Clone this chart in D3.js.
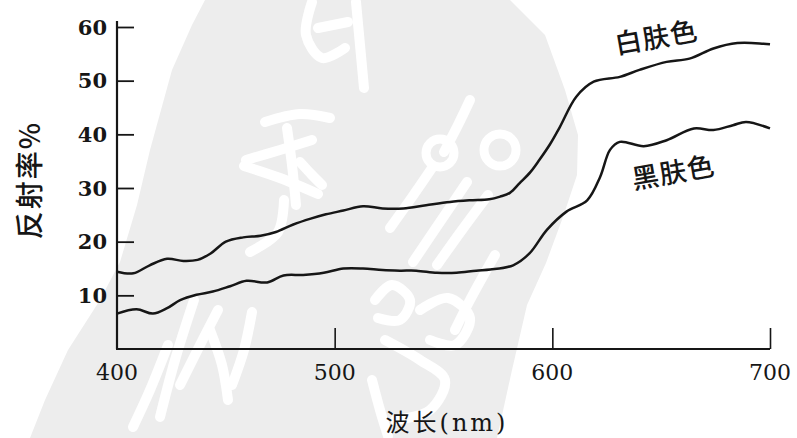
<!DOCTYPE html>
<html>
<head>
<meta charset="utf-8">
<script src="https://cdn.jsdelivr.net/npm/d3@7"></script>
<style>
  html, body { margin: 0; padding: 0; background: #fff; }
  svg { display: block; }
</style>
</head>
<body>
<svg id="chart" width="797" height="438"></svg>
<script>
// Skin reflectance spectra (wavelength in nm, reflectance in %)
const whiteSkinNm  = [400, 407.5, 415, 423, 430.5, 437, 443, 450, 458, 466, 473, 481, 489, 496, 504, 513, 522, 531.5, 542, 553, 562, 571, 576, 580.5, 585, 590, 594, 599, 603.5, 611, 619, 631, 640, 652.5, 663, 674, 685, 697, 700];
const whiteSkinPct = [14.4, 14.1, 15.6, 16.8, 16.4, 16.6, 17.8, 20.0, 20.8, 21.1, 21.8, 23.2, 24.3, 25.1, 25.8, 26.6, 26.2, 26.2, 26.8, 27.4, 27.7, 27.9, 28.4, 29.1, 30.9, 33.0, 35.2, 38.2, 41.4, 47.0, 49.8, 50.7, 52.0, 53.5, 54.1, 56.0, 57.0, 56.9, 56.8];

const darkSkinNm  = [400, 409, 416.5, 423, 429, 436.5, 444, 452, 459.5, 469, 476.5, 485.5, 495, 504, 513, 522, 530, 537.5, 547, 556, 565, 571.5, 582, 589.5, 597.5, 606.5, 616, 622, 626.5, 631, 642, 652.5, 665, 674, 683, 689, 700];
const darkSkinPct = [6.6, 7.4, 6.6, 7.6, 9.1, 10.1, 10.7, 11.7, 12.7, 12.4, 13.7, 13.8, 14.2, 15.0, 15.0, 14.7, 14.6, 14.6, 14.2, 14.2, 14.6, 14.8, 15.6, 17.8, 22.2, 25.6, 27.7, 32.1, 37.1, 38.6, 37.8, 38.9, 41.1, 40.8, 41.7, 42.3, 41.1];

const xTicks = [400, 500, 600, 700];
const yTicks = [10, 20, 30, 40, 50, 60];

const seriesLabels = ["白肤色", "黑肤色"];
const xTitle = "波长(nm)";
const yTitle = "反射率%";

const svg = d3.select("#chart");
const ink = "#161616";

// Plot frame
const x = d3.scaleLinear().domain([400, 700]).range([117, 770]);
const y = d3.scaleLinear().domain([0, 60]).range([349, 27]);

// Pale background stamp with white brush strokes
const stamp = svg.append("g");
const blob = [[205,0],[510,0],[545,35],[565,90],[578,135],[577,175],[563,217],[546,263],[527,305],[512,370],[497,438],
              [30,438],[45,400],[68,350],[100,300],[120,262],[137,205],[150,150],[172,70],[192,25]];
stamp.append("path")
  .attr("d", d3.line().curve(d3.curveLinearClosed)(blob))
  .attr("fill", "#ededed");

const strokes = [
  // upper glyph
  [[312,2],[306,35],[322,58],[345,48]],
  [[356,2],[360,45],[364,88]],
  [[318,28],[348,22]],
  // middle-left glyph
  [[265,122],[300,114],[330,118]],
  [[246,160],[280,150],[312,140]],
  [[287,128],[292,165],[296,205]],
  [[244,166],[280,178],[318,194]],
  [[300,162],[312,175],[322,185]],
  [[284,200],[278,232],[250,252]],
  // middle-right glyph
  [[470,100],[458,125],[444,152]],
  [[432,168],[410,200],[390,228]],
  [[467,182],[440,222],[413,262]],
  [[488,195],[462,230],[437,265]],
  [[495,255],[470,300],[455,330]],
  // lower-left glyph
  [[218,310],[200,345],[180,385]],
  [[252,312],[244,350],[232,385]],
  [[168,345],[150,390],[133,427]],
  [[194,300],[175,360],[160,417]],
  [[210,330],[222,365],[228,400]],
  // lower-middle glyph
  [[375,300],[392,285],[410,300],[400,320],[378,318]],
  [[420,310],[448,298],[470,318],[455,345],[430,340]],
  [[385,340],[420,360],[445,380],[430,410],[395,420]],
  [[372,380],[380,410],[388,436]]
];
stamp.selectAll("path.stroke").data(strokes).join("path")
  .attr("class", "stroke")
  .attr("d", d3.line().curve(d3.curveCatmullRom))
  .attr("fill", "none")
  .attr("stroke", "#fff")
  .attr("stroke-width", 10)
  .attr("stroke-linecap", "round")
  .attr("stroke-linejoin", "round");
// circular loops of the right glyph
stamp.selectAll("circle").data([[440,153,14],[500,150,16]]).join("circle")
  .attr("cx", d => d[0]).attr("cy", d => d[1]).attr("r", d => d[2])
  .attr("fill", "none").attr("stroke", "#fff").attr("stroke-width", 9);

// Axes (ticks point inward)
const yAxis = d3.axisRight(y).tickValues(yTicks).tickSize(17).tickFormat("");
const yg = svg.append("g").attr("transform", `translate(${x(400)},0)`).call(yAxis);
yg.select(".domain").remove();
yg.selectAll(".tick line").attr("stroke", ink).attr("stroke-width", 1.8);

const xAxis = d3.axisTop(x).tickValues(xTicks.slice(1)).tickSize(21).tickFormat("");
const xg = svg.append("g").attr("transform", `translate(0,${y(0)})`).call(xAxis);
xg.select(".domain").remove();
xg.selectAll(".tick line").attr("stroke", ink).attr("stroke-width", 1.6);

svg.append("line")
  .attr("x1", x(400)).attr("x2", x(400))
  .attr("y1", y(0)).attr("y2", y(60) - 6)
  .attr("stroke", ink).attr("stroke-width", 2.2);
svg.append("line")
  .attr("x1", x(400) - 1).attr("x2", x(700))
  .attr("y1", y(0)).attr("y2", y(0))
  .attr("stroke", ink).attr("stroke-width", 2.2);

// Tick labels
const numFont = "'DejaVu Serif', 'Liberation Serif', serif";
svg.append("g").selectAll("text").data(yTicks).join("text")
  .attr("x", x(400) - 10)
  .attr("y", d => y(d))
  .attr("dy", "0.36em")
  .attr("text-anchor", "end")
  .attr("font-family", numFont)
  .attr("font-weight", "bold")
  .attr("font-size", 21)
  .attr("fill", ink)
  .text(d => d);

svg.append("g").selectAll("text").data(xTicks).join("text")
  .attr("x", d => x(d))
  .attr("y", y(0) + 31)
  .attr("text-anchor", "middle")
  .attr("font-family", numFont)
  .attr("font-size", 22)
  .attr("fill", ink)
  .text(d => d);

// Axis titles
svg.append("text")
  .attr("x", 447).attr("y", 431)
  .attr("text-anchor", "middle")
  .attr("font-family", "'DejaVu Serif', 'Noto Sans CJK SC', serif")
  .attr("font-size", 24)
  .attr("letter-spacing", 3)
  .attr("fill", ink)
  .text(xTitle);

svg.append("text")
  .attr("transform", "translate(40,180) rotate(-90)")
  .attr("text-anchor", "middle")
  .attr("font-family", "'Noto Sans CJK SC', sans-serif")
  .attr("font-size", 28)
  .attr("font-weight", 500)
  .attr("letter-spacing", 2)
  .attr("fill", ink)
  .text(yTitle);

// Spectral curves
const line = d3.line().curve(d3.curveCatmullRom.alpha(0.5));
const series = [
  { nm: whiteSkinNm, pct: whiteSkinPct },
  { nm: darkSkinNm, pct: darkSkinPct }
];
svg.append("g").selectAll("path").data(series).join("path")
  .attr("d", s => line(s.nm.map((v, i) => [x(v), y(s.pct[i])])))
  .attr("fill", "none")
  .attr("stroke", ink)
  .attr("stroke-width", 2.5)
  .attr("stroke-linejoin", "round");

// Curve labels
const labelPos = [[658, 47], [675, 182]];
svg.append("g").selectAll("text").data(seriesLabels).join("text")
  .attr("transform", (d, i) => `translate(${labelPos[i][0]},${labelPos[i][1]}) rotate(-10)`)
  .attr("text-anchor", "middle")
  .attr("font-family", "'Noto Sans CJK SC', sans-serif")
  .attr("font-size", 27)
  .attr("font-weight", 500)
  .attr("letter-spacing", 1)
  .attr("fill", ink)
  .text(d => d);
</script>
</body>
</html>
